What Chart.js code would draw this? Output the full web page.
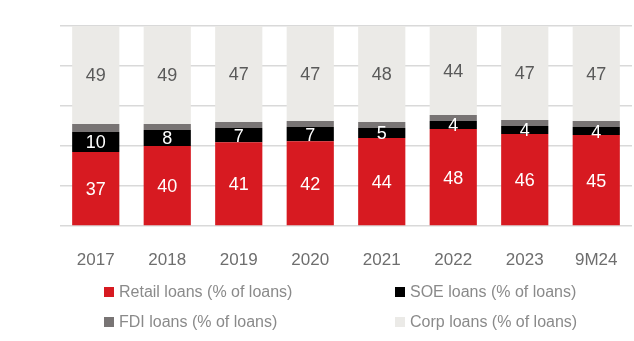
<!DOCTYPE html>
<html>
<head>
<meta charset="utf-8">
<script src="https://cdn.jsdelivr.net/npm/chart.js@4"></script>
<style>
  html, body { margin: 0; padding: 0; background: #fff; }
  #wrap { position: relative; width: 634px; height: 341px; }
  #legend { position: absolute; left: 0; top: 0; width: 634px; height: 341px; pointer-events: none;
            font-family: "Liberation Sans", Arial, sans-serif; font-size: 16px; color: #8a8a8a; }
  .item { position: absolute; white-space: nowrap; line-height: 18px; }
  .box { position: absolute; width: 10px; height: 10px; left: 0; top: 4px; }
  .item span.txt { position: absolute; left: 15px; top: 0; }
</style>
</head>
<body>
<div id="wrap">
  <canvas id="bar_chart" width="634" height="341"></canvas>
  <div id="legend"></div>
</div>
<script>
// Loan book mix per year, in % of loans
const years  = ['2017', '2018', '2019', '2020', '2021', '2022', '2023', '9M24'];
const retail = [37, 40, 41, 42, 44, 48, 46, 45];
const soe    = [10, 8, 7, 7, 5, 4, 4, 4];
const fdi    = [4, 3, 3, 3, 3, 3, 3, 3];
const corp   = [49, 49, 47, 47, 48, 44, 47, 47];
const yTicks = [0, 20, 40, 60, 80, 100];

const series = [
  { label: 'Retail loans (% of loans)', values: retail, color: '#d71a21', text: '#ffffff' },
  { label: 'SOE loans (% of loans)',    values: soe,    color: '#000000', text: '#ffffff' },
  { label: 'FDI loans (% of loans)',    values: fdi,    color: '#787474', text: null },
  { label: 'Corp loans (% of loans)',   values: corp,   color: '#ebeae7', text: '#5a5a5a' }
];

// 100% stacked: each column is scaled to its own total
const totals = years.map((y, i) => series.reduce((s, d) => s + d.values[i], 0));

// writes the rounded share in the middle of each segment
const segmentLabels = {
  id: 'segmentLabels',
  afterDatasetsDraw(chart) {
    const ctx = chart.ctx;
    ctx.save();
    ctx.font = '18px "Liberation Sans", Arial, sans-serif';
    ctx.textAlign = 'center';
    ctx.textBaseline = 'middle';
    chart.data.datasets.forEach((ds, di) => {
      if (!ds.textColor) return;
      chart.getDatasetMeta(di).data.forEach((bar, i) => {
        const mid = (bar.y + bar.base) / 2;
        ctx.fillStyle = ds.textColor;
        ctx.fillText(String(ds.rawValues[i]), bar.x, mid + 1.5);
      });
    });
    ctx.restore();
  }
};

const ctx = document.getElementById('bar_chart');

const chart = new Chart(ctx, {
  type: 'bar',
  data: {
    labels: years,
    datasets: series.map(s => ({
      label: s.label,
      data: s.values.map((v, i) => v / totals[i] * 100),
      rawValues: s.values,
      textColor: s.text,
      backgroundColor: s.color,
      borderWidth: 0,
      barPercentage: 0.66,
      categoryPercentage: 1
    }))
  },
  options: {
    responsive: false,
    animation: false,
    layout: { padding: { left: 60, right: 2, top: 26, bottom: 74 } },
    plugins: {
      legend: { display: false },
      tooltip: { enabled: false }
    },
    scales: {
      x: {
        stacked: true,
        grid: { display: false },
        border: { display: false },
        ticks: {
          padding: 16,
          color: '#6e6e6e',
          font: { family: '"Liberation Sans", Arial, sans-serif', size: 17 }
        },
        afterFit: function(scale) { scale.height = 41; }
      },
      y: {
        stacked: true,
        min: yTicks[0],
        max: yTicks[yTicks.length - 1],
        afterBuildTicks: function(scale) { scale.ticks = yTicks.map(v => ({ value: v })); },
        ticks: { display: false },
        grid: { color: '#d9d9d9', lineWidth: 1.5, drawTicks: false },
        border: { display: false },
        afterFit: function(scale) { scale.width = 0; }
      }
    }
  },
  plugins: [segmentLabels]
});

// two-column legend under the plot
const legendPos = [
  { left: 104, top: 283 }, { left: 395, top: 283 },
  { left: 104, top: 313 }, { left: 395, top: 313 }
];
const legend = document.getElementById('legend');
chart.data.datasets.forEach((ds, i) => {
  const item = document.createElement('div');
  item.className = 'item';
  item.style.left = legendPos[i].left + 'px';
  item.style.top = legendPos[i].top + 'px';
  const box = document.createElement('span');
  box.className = 'box';
  box.style.background = ds.backgroundColor;
  const txt = document.createElement('span');
  txt.className = 'txt';
  txt.textContent = ds.label;
  item.appendChild(box);
  item.appendChild(txt);
  legend.appendChild(item);
});
</script>
</body>
</html>
